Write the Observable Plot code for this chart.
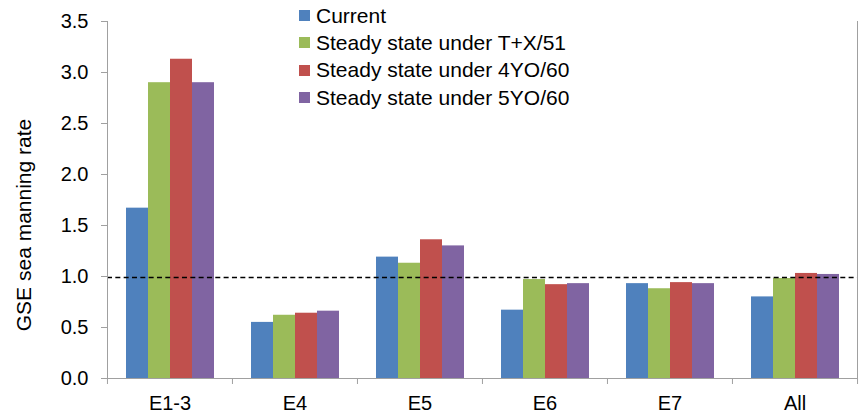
<!DOCTYPE html>
<html>
<head>
<meta charset="utf-8">
<script src="https://cdn.jsdelivr.net/npm/d3@7"></script>
<script src="https://cdn.jsdelivr.net/npm/@observablehq/plot@0.6"></script>
<style>
  html, body { margin: 0; padding: 0; background: #fff; }
  #wrap { position: relative; width: 864px; height: 417px; font-family: "Liberation Sans", Arial, sans-serif; }
  #legend { position: absolute; left: 299px; top: 2px; }
  .row { display: flex; align-items: center; height: 27.3px; font-size: 21px; color: #000; white-space: nowrap; }
  .sw { width: 11px; height: 11px; margin-right: 6px; flex: none; }
</style>
</head>
<body>
<div id="wrap"><div id="legend"></div></div>
<script>
const categories = ["E1-3", "E4", "E5", "E6", "E7", "All"];
const seriesNames = ["Current", "Steady state under T+X/51", "Steady state under 4YO/60", "Steady state under 5YO/60"];
const current = [1.67, 0.55, 1.19, 0.67, 0.93, 0.80];
const steadyTX51 = [2.90, 0.62, 1.13, 0.97, 0.88, 0.98];
const steady4YO60 = [3.13, 0.64, 1.36, 0.92, 0.94, 1.03];
const steady5YO60 = [2.90, 0.66, 1.30, 0.93, 0.93, 1.02];
const referenceLevel = [0.99];
const yTicks = [0, 0.5, 1.0, 1.5, 2.0, 2.5, 3.0, 3.5];
const colors = ["#4F81BD", "#9BBB59", "#C0504D", "#8064A2"];

const seriesValues = [current, steadyTX51, steady4YO60, steady5YO60];
const rows = [];
seriesNames.forEach((s, si) => categories.forEach((c, ci) => rows.push({cat: c, series: s, value: seriesValues[si][ci]})));

const W = 864, H = 417, ML = 107, MR = 6.5, MT = 21, MB = 39;
const half = (W - ML - MR) / categories.length / 2;
const axisGray = "#a0a0a0";

const chart = Plot.plot({
  width: W, height: H,
  marginLeft: ML, marginRight: MR, marginTop: MT, marginBottom: MB,
  style: {fontFamily: '"Liberation Sans", Arial, sans-serif', fontSize: "20px", color: "#000", background: "#fff"},
  fx: {domain: categories, padding: 0, label: null},
  x: {domain: seriesNames, paddingInner: 0, paddingOuter: 0.778, axis: null},
  y: {domain: [0, 3.5], axis: null},
  color: {domain: seriesNames, range: colors},
  marks: [
    Plot.barY(rows, {fx: "cat", x: "series", y: "value", fill: "series"}),
    Plot.ruleY([0], {stroke: axisGray}),
    Plot.ruleY(referenceLevel, {stroke: "#000", strokeWidth: 1.3, strokeDasharray: "5,3.33"}),
    Plot.frame({anchor: "left", stroke: axisGray, facetAnchor: "left"}),
    Plot.frame({anchor: "right", stroke: axisGray, facetAnchor: "right"}),
    Plot.axisY({ticks: yTicks, tickFormat: d3.format(".1f"), tickSize: 6, tickPadding: 13, stroke: axisGray, fill: "#000", fontSize: 20, label: null}),
    Plot.axisFx({anchor: "bottom", tickSize: 0, tickPadding: 17, fontSize: 20, fill: "#000", label: null}),
    Plot.axisFx({anchor: "bottom", tickSize: 6, dx: -half, tickFormat: () => "", stroke: axisGray, label: null}),
    Plot.axisFx({anchor: "bottom", ticks: [categories[categories.length - 1]], tickSize: 6, dx: half, tickFormat: () => "", stroke: axisGray, label: null}),
    Plot.text(["GSE sea manning rate"], {text: d => d, frameAnchor: "left", textAnchor: "middle", rotate: -90, dx: -83, dy: 25, fontSize: 21, fill: "#000", facetAnchor: "left"})
  ]
});
document.getElementById("wrap").prepend(chart);

const legend = d3.select("#legend");
seriesNames.forEach((s, i) => {
  const r = legend.append("div").attr("class", "row");
  r.append("div").attr("class", "sw").style("background", colors[i]);
  r.append("span").text(s);
});
</script>
</body>
</html>
